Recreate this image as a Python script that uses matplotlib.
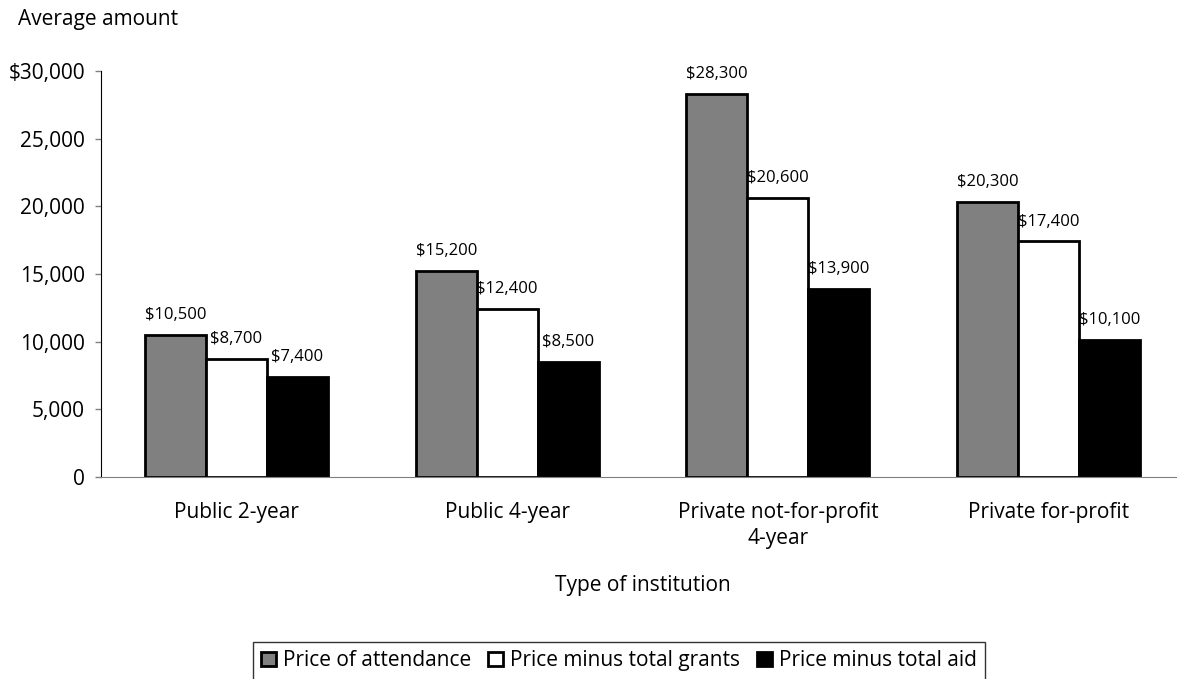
import numpy as np
import matplotlib.pyplot as plt

plt.rcParams['font.family'] = ['Open Sans', 'DejaVu Sans']

categories = ["Public 2-year", "Public 4-year", "Private not-for-profit\n4-year", "Private for-profit"]
price = [10500, 15200, 28300, 20300]
minus_grants = [8700, 12400, 20600, 17400]
minus_aid = [7400, 8500, 13900, 10100]
series_names = ["Price of attendance", "Price minus total grants", "Price minus total aid"]
colors = ["#808080", "white", "black"]

fig = plt.figure(figsize=(11.77, 6.79), dpi=100)
# axes runs a bit past the right edge, like the original
ax = fig.add_axes([101 / 1177, 0.2975, 1083 / 1177, 0.598])

x = np.arange(len(categories))
w = 0.225
handles = []
for i, (vals, name, c) in enumerate(zip([price, minus_grants, minus_aid], series_names, colors)):
    pos = x + (i - 1) * w
    b = ax.bar(pos, vals, width=w, color=c, edgecolor="black", linewidth=2, label=name)
    handles.append(b)
    for p, v in zip(pos, vals):
        ax.text(p, v + 1180, "${:,}".format(v), ha="center", va="baseline", fontsize=12)

ax.set_xlim(-0.5, len(categories) - 0.5)
ax.set_ylim(0, 30000)
ax.set_yticks(range(0, 30001, 5000))
ax.set_yticklabels(["0", "5,000", "10,000", "15,000", "20,000", "25,000", "$30,000"], fontsize=15)
ax.set_xticks(x)
ax.set_xticklabels(categories, fontsize=15, linespacing=1.3)
ax.tick_params(axis="x", length=0, pad=18)
ax.tick_params(axis="y", length=4.5, width=1, color="#808080", pad=7)

for s in ["top", "right"]:
    ax.spines[s].set_visible(False)
ax.spines["bottom"].set_color("#808080")
ax.spines["left"].set_color("black")

ax.set_xlabel("Type of institution", fontsize=15, labelpad=19)
fig.text(18 / 1177, 1 - 25 / 679, "Average amount", fontsize=15, ha="left", va="baseline")

leg = fig.legend(handles=handles, loc="upper center", bbox_to_anchor=(619 / 1177, 1 - 642 / 679), ncol=3,
                 fontsize=15, frameon=True, fancybox=False, edgecolor="black",
                 handlelength=0.72, handleheight=0.72, handletextpad=0.34, columnspacing=0.8,
                 borderpad=0.4, borderaxespad=0)
leg.get_frame().set_linewidth(1)

fig.savefig("out.png", dpi=100)
